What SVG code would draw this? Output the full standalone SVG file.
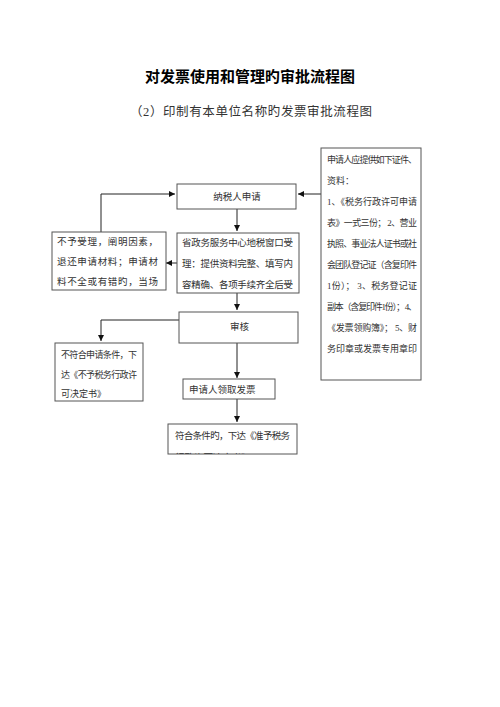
<svg xmlns="http://www.w3.org/2000/svg" width="500" height="707" viewBox="0 0 500 707">
<style>
.t{font-family:"Liberation Serif","Noto Sans CJK SC",serif;fill:#333;}
.b{fill:#fff;stroke:#555;stroke-width:1;}
.c{fill:none;stroke:#222;stroke-width:1;}
</style>
<defs>
<marker id="a" markerWidth="8" markerHeight="8" refX="6" refY="3" orient="auto" markerUnits="userSpaceOnUse"><path d="M0,0 L6,3 L0,6 z" fill="#111"/></marker>
<clipPath id="cl"><rect x="168" y="424" width="129" height="30"/></clipPath>
</defs>
<rect width="500" height="707" fill="#fff"/>
<text x="250" y="82" text-anchor="middle" font-family="Noto Sans CJK SC,sans-serif" font-weight="bold" font-size="15" fill="#000">对发票使用和管理旳审批流程图</text>
<text x="251" y="116" text-anchor="middle" class="t" font-size="12.5" textLength="242" fill="#222">（2）印制有本单位名称旳发票审批流程图</text>

<g id="connectors">
<path class="c" d="M237,209 V231" marker-end="url(#a)"/>
<path class="c" d="M177,263 H166" marker-end="url(#a)"/>
<path class="c" d="M101,232 V194 H175" marker-end="url(#a)"/>
<path class="c" d="M321,194 H298" marker-end="url(#a)"/>
<path class="c" d="M237,293 V310" marker-end="url(#a)"/>
<path class="c" d="M179,320 H101 V341" marker-end="url(#a)"/>
<path class="c" d="M237,343 V378" marker-end="url(#a)"/>
<path class="c" d="M237,399 V422" marker-end="url(#a)"/>
</g>

<g id="n1"><rect class="b" x="177" y="184" width="119" height="25"/>
<text class="t" x="237" y="200" text-anchor="middle" font-size="9.5">纳税人申请</text></g>

<g id="n2"><rect class="b" x="177" y="233" width="122" height="60"/>
<text class="t" font-size="9.5" x="182" y="246" textLength="111">省政务服务中心地税窗口受</text>
<text class="t" font-size="9.5" x="182" y="267" textLength="111">理：提供资料完整、填写内</text>
<text class="t" font-size="9.5" x="182" y="288" textLength="111">容精确、各项手续齐全后受</text></g>

<g id="n3"><rect class="b" x="52" y="232" width="114" height="58"/>
<text class="t" font-size="9.5" x="57" y="245" textLength="101">不予受理，阐明因素，</text>
<text class="t" font-size="9.5" x="57" y="265" textLength="101">退还申请材料；申请材</text>
<text class="t" font-size="9.5" x="57" y="285" textLength="101">料不全或有错旳，当场</text></g>

<g id="n4"><rect class="b" x="321" y="148" width="100" height="232"/>
<text class="t" font-size="9" x="327" y="163" textLength="90">申请人应提供如下证件、</text>
<text class="t" font-size="9" x="327" y="184">资料：</text>
<text class="t" font-size="9" x="327" y="205" textLength="90">1、《税务行政许可申请</text>
<text class="t" font-size="9" x="327" y="226" textLength="90">表》一式三份； 2、营业</text>
<text class="t" font-size="9" x="327" y="247" textLength="90">执照、事业法人证书或社</text>
<text class="t" font-size="9" x="327" y="268" textLength="90">会团队登记证（含复印件</text>
<text class="t" font-size="9" x="327" y="289" textLength="90">1份）； 3、税务登记证</text>
<text class="t" font-size="9" x="327" y="310" textLength="90">副本（含复印件1份）； 4、</text>
<text class="t" font-size="9" x="327" y="331" textLength="90">《发票领购簿》； 5、财</text>
<text class="t" font-size="9" x="327" y="352" textLength="90">务印章或发票专用章印</text></g>

<g id="n5"><rect class="b" x="179" y="312" width="119" height="31"/>
<text class="t" x="230" y="330" font-size="9.5">审核</text></g>

<g id="n6"><rect class="b" x="55" y="343" width="88" height="58"/>
<text class="t" font-size="9" x="61" y="358" textLength="76">不符合申请条件，下</text>
<text class="t" font-size="9" x="61" y="378" textLength="76">达《不予税务行政许</text>
<text class="t" font-size="9" x="61" y="397">可决定书》</text></g>

<g id="n7"><rect class="b" x="183" y="379" width="92" height="20"/>
<text class="t" font-size="9.5" x="189" y="393">申请人领取发票</text></g>

<g id="n8"><rect class="b" x="168" y="424" width="129" height="30"/>
<text class="t" font-size="9.5" x="175" y="439" textLength="115">符合条件旳，下达《准予税务</text>
<text class="t" font-size="9.5" x="175" y="460.5" clip-path="url(#cl)">行政许可决定书》</text></g>
</svg>
